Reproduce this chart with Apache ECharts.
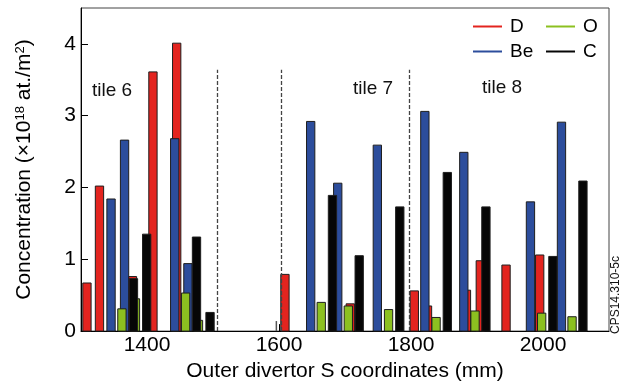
<!DOCTYPE html>
<html>
<head>
<meta charset="utf-8">
<script src="https://cdn.jsdelivr.net/npm/echarts@6/dist/echarts.min.js"></script>
<style>
  html, body { margin: 0; padding: 0; background: #fff; }
  #chart { width: 630px; height: 387px; }
</style>
</head>
<body>
<div id="chart"></div>
<script>
// S coordinate (mm) and concentration (1e18 at./m2) for each element
var D_S  = [1309, 1328, 1378, 1409, 1445, 1609, 1708, 1805, 1825, 1884, 1905, 1944, 1995];
var D_V  = [0.67, 2.02, 0.76, 3.61, 4.01, 0.79, 0.38, 0.56, 0.35, 0.57, 0.98, 0.92, 1.06];

var BE_S = [1345.5, 1366, 1442, 1462, 1648, 1689, 1749, 1821, 1880, 1981, 2028];
var BE_V = [1.84, 2.66, 2.68, 0.94, 2.92, 2.06, 2.59, 3.06, 2.49, 1.80, 2.91];

var O_S  = [1362, 1382.5, 1458.5, 1478, 1664, 1705, 1766, 1838, 1897, 1998, 2044];
var O_V  = [0.31, 0.45, 0.53, 0.15, 0.40, 0.35, 0.30, 0.19, 0.28, 0.25, 0.20];

var C_S  = [1379.5, 1399.5, 1475, 1495.5, 1681, 1721.5, 1783, 1855, 1913.5, 2015, 2060.5];
var C_V  = [0.73, 1.35, 1.31, 0.26, 1.89, 1.05, 1.73, 2.21, 1.73, 1.04, 2.09];

// thin hidden sample mark
var THIN_S = [1596];
var THIN_V = [0.14];

// tile boundaries (dashed lines) and their height
var TILE_EDGES = [1506, 1603, 1797];
var DASH_TOP = 3.64;

var X_TICKS = [1400, 1600, 1800, 2000];
var Y_TICKS = [0, 1, 2, 3, 4];

var FONT = 'Liberation Sans, Arial, Helvetica, sans-serif';
var BAR_MM = 12.6;

function pairs(xs, ys) {
    var out = [];
    for (var i = 0; i < xs.length; i++) {
        out.push([xs[i], ys[i]]);
    }
    return out;
}

function barRender(params, api) {
    var s = api.value(0), v = api.value(1);
    var base = api.coord([s, 0]);
    var top = api.coord([s, v]);
    var w = api.size([BAR_MM, 0])[0];
    return {
        type: 'rect',
        shape: { x: base[0] - w / 2, y: top[1], width: w, height: base[1] - top[1] },
        style: { fill: api.visual('color'), stroke: '#1e1e1e', lineWidth: 1 }
    };
}

function thinRender(params, api) {
    var base = api.coord([api.value(0), 0]);
    var top = api.coord([api.value(0), api.value(1)]);
    return {
        type: 'rect',
        shape: { x: base[0] - 0.75, y: top[1], width: 1.5, height: base[1] - top[1] },
        style: { fill: '#555' }
    };
}

function barSeries(name, color, xs, ys) {
    return {
        name: name,
        type: 'custom',
        renderItem: barRender,
        itemStyle: { color: color },
        encode: { x: 0, y: 1 },
        data: pairs(xs, ys)
    };
}

function legendItem(name, left, top) {
    return {
        data: [name],
        left: left,
        top: top,
        icon: 'rect',
        itemWidth: 29,
        itemHeight: 2,
        selectedMode: false,
        formatter: function (n) { return '{g|}' + n; },
        textStyle: {
            fontSize: 19,
            color: '#000',
            fontFamily: FONT,
            rich: { g: { width: 3, fontSize: 19 } }
        }
    };
}

var option = {
    animation: false,
    backgroundColor: '#fff',
    grid: {
        left: 81, right: 21, top: 8, bottom: 54,
        show: true, borderColor: '#444', borderWidth: 1, backgroundColor: 'transparent'
    },
    // legend padding is 5, so boxes start 5px left/up of the line
    legend: [
        legendItem('D', 468, 12),
        legendItem('O', 541, 12),
        legendItem('Be', 468, 37),
        legendItem('C', 541, 37)
    ],
    xAxis: {
        type: 'value',
        min: 1300,
        max: 2100,
        name: 'Outer divertor S coordinates (mm)',
        nameLocation: 'middle',
        nameGap: 28,
        nameTextStyle: { fontSize: 21, color: '#000', fontFamily: FONT },
        axisLine: { lineStyle: { color: '#000', width: 1 } },
        axisTick: { inside: true, length: 7, customValues: X_TICKS, lineStyle: { color: '#000' } },
        axisLabel: {
            customValues: X_TICKS, fontSize: 21, color: '#000', fontFamily: FONT, margin: 4,
            formatter: function (v) { return String(v); }
        },
        splitLine: { show: false }
    },
    yAxis: {
        type: 'value',
        min: 0,
        max: 4.5,
        name: '{n|Concentration (×10}{s|18}{n| at./m}{s|2}{n|)}',
        nameLocation: 'middle',
        nameGap: 46,
        nameTextStyle: {
            color: '#000',
            rich: {
                n: { fontSize: 21, fontFamily: FONT, color: '#000' },
                s: { fontSize: 13, fontFamily: FONT, color: '#000', verticalAlign: 'top' }
            }
        },
        axisLine: { show: true, lineStyle: { color: '#000', width: 1 } },
        axisTick: { show: true, inside: true, length: 7, customValues: Y_TICKS, lineStyle: { color: '#000' } },
        axisLabel: { customValues: Y_TICKS, fontSize: 21, color: '#000', fontFamily: FONT, margin: 5 },
        splitLine: { show: false }
    },
    graphic: [
        { type: 'text', left: 92, top: 81, style: { text: 'tile 6', fontSize: 19, fontFamily: FONT, fill: '#111' } },
        { type: 'text', left: 353, top: 79, style: { text: 'tile 7', fontSize: 19, fontFamily: FONT, fill: '#111' } },
        { type: 'text', left: 482, top: 78, style: { text: 'tile 8', fontSize: 19, fontFamily: FONT, fill: '#111' } },
        {
            type: 'text', x: 616, y: 295, rotation: Math.PI / 2,
            style: { text: 'CPS14.310-5c', fontSize: 12, fontFamily: FONT, fill: '#111', align: 'center', verticalAlign: 'middle' }
        }
    ],
    series: [
        {
            name: 'thin',
            type: 'custom',
            renderItem: thinRender,
            encode: { x: 0, y: 1 },
            data: pairs(THIN_S, THIN_V),
            markLine: {
                silent: true,
                symbol: 'none',
                label: { show: false },
                lineStyle: { type: [4, 2], color: '#444', width: 1.3 },
                data: TILE_EDGES.map(function (s) {
                    return [{ coord: [s, 0] }, { coord: [s, DASH_TOP] }];
                })
            }
        },
        barSeries('D', '#e3241f', D_S, D_V),
        barSeries('Be', '#2c4d9c', BE_S, BE_V),
        barSeries('O', '#8cc020', O_S, O_V),
        barSeries('C', '#060606', C_S, C_V)
    ]
};

var myChart = echarts.init(document.getElementById('chart'));
myChart.setOption(option);
</script>
</body>
</html>
